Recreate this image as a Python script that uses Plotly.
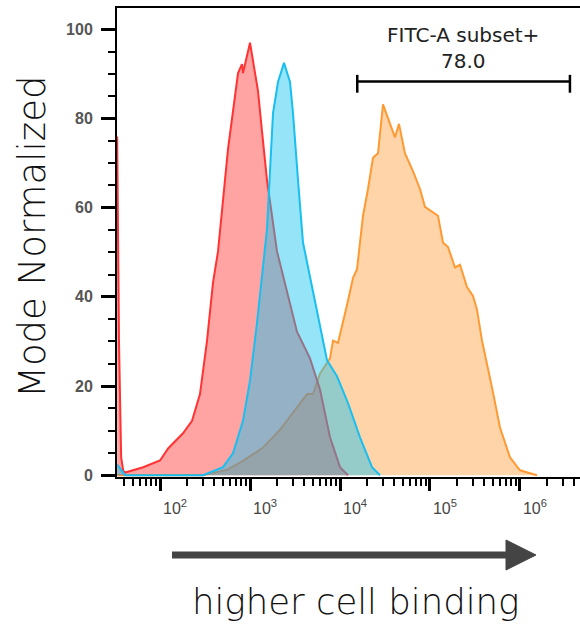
import plotly.graph_objects as go

# ---- data ----
red_x = [33.4, 35, 37, 39, 41, 65, 100, 123, 180, 227, 278, 333, 388, 441, 570, 736, 815,
         836, 1000, 1136, 1227, 1359, 1545, 1995, 2577, 3327, 4642, 5995, 7743, 10000, 12270]
red_y = [76, 30, 4, 1, 0.6, 1.8, 3.3, 6, 9.4, 12.2, 18.2, 30.2, 43.2, 50.2, 73.2, 90.2, 92.2,
         90.2, 97, 90.8, 86.2, 77.2, 66.2, 50.2, 41.2, 32.2, 26.2, 19.2, 8.5, 1.8, 0]

blue_x = [33.4, 41, 167, 300, 501, 647, 836, 1000, 1197, 1359, 1468, 1545, 1668, 1802, 2047,
          2387, 2783, 3005, 3415, 3881, 5012, 7171, 9261, 12270, 16680, 22690, 27830]
blue_y = [2.4, 0, 0, 0, 1.8, 4.9, 12.2, 21.2, 34.2, 45.2, 52.2, 55.2, 68.2, 81.2, 88.2,
          92.5, 88.2, 81.2, 66.2, 52.2, 41.2, 25.8, 22.2, 16.2, 8.5, 1.8, 0]

orange_x = [33.4, 300, 555, 836, 1394, 2154, 3327, 4299, 5012, 5995, 7743, 8356, 9505, 10520,
            11970, 13940, 15450, 18020, 20470, 23270, 26440, 30050, 34150, 40840, 45250, 52750,
            64730, 77430, 87990, 113600, 122700, 139400, 158500, 189700, 215400, 257700, 300500,
            332700, 378200, 488500, 599500, 774300, 1000000, 1545000]
orange_y = [0, 0, 1.2, 3.2, 6.2, 10.2, 15.2, 18.2, 18.2, 22.8, 26.2, 30.2, 29.7, 33.2,
            38.2, 44.2, 46.2, 58.2, 64.2, 71.2, 72.2, 83.2, 80.2, 75.8, 78.8, 72.2,
            68.2, 64.2, 60.2, 58.7, 58.2, 52.2, 51.2, 46.6, 47.2, 42.2, 40.2,
            37.2, 30.2, 19.7, 10.7, 4, 1.1, 0]

gate_x = [15560, 3590000]
gate_y = 88.3
gate_label = "FITC-A subset+"
gate_value = "78.0"

x_major = [1e2, 1e3, 1e4, 1e5, 1e6]
x_major_text = ["10<sup>2</sup>", "10<sup>3</sup>", "10<sup>4</sup>", "10<sup>5</sup>", "10<sup>6</sup>"]
x_minor = [m * 10 ** d for d in range(1, 7) for m in range(2, 10)]
y_major = [0, 20, 40, 60, 80, 100]

fig = go.Figure()

series = [
    (orange_x, orange_y, "#FF9A33", "rgba(255,153,51,0.42)"),
    (red_x, red_y, "#FF3333", "rgba(255,51,51,0.45)"),
    (blue_x, blue_y, "#18BFF0", "rgba(20,195,240,0.45)"),
]
for xs, ys, lc, fc in series:
    fig.add_trace(go.Scatter(x=xs, y=ys, mode="lines", fill="tozeroy",
                             line=dict(color=lc, width=2), fillcolor=fc,
                             hoverinfo="skip", showlegend=False))

# gate bar
g0, g1 = gate_x
fig.add_trace(go.Scatter(
    x=[g0, g0, None, g0, g1, None, g1, g1],
    y=[gate_y - 2.5, gate_y + 1.5, None, gate_y, gate_y, None, gate_y - 2.5, gate_y + 1.5],
    mode="lines", line=dict(color="black", width=2.5), hoverinfo="skip", showlegend=False))

fig.update_xaxes(
    type="log", range=[1.522, 6.667],
    showline=True, linewidth=2, linecolor="black", mirror=True,
    showgrid=False, zeroline=False,
    tickmode="array", tickvals=x_major, ticktext=x_major_text,
    ticks="outside", ticklen=12, tickwidth=3, tickcolor="black",
    tickfont=dict(family="Liberation Sans", size=16, color="#444"),
    ticklabelshift=15, ticklabelstandoff=4,
    minor=dict(tickmode="array", tickvals=x_minor, ticks="outside", ticklen=7,
               tickwidth=1.5, tickcolor="black", showgrid=False),
)
fig.update_yaxes(
    range=[-0.4, 104.8],
    showline=True, linewidth=2, linecolor="black",
    showgrid=False, zeroline=False,
    tickmode="array", tickvals=y_major,
    ticks="outside", ticklen=14, tickwidth=3, tickcolor="black",
    tickfont=dict(family="Liberation Sans", size=16, color="#555", weight="bold"),
    ticklabelstandoff=5,
    minor=dict(dtick=5, ticks="outside", ticklen=7, tickwidth=1.5, tickcolor="black",
               showgrid=False),
)

W, H = 580, 629
L, R, T, B = 117, 0, 8, 152
pw, ph = W - L - R, H - T - B


def px(xp):
    return (xp - L) / pw


def py(yp):
    return (H - B - yp) / ph


annotations = [
    dict(text=gate_label, x=px(463), y=py(35), xref="paper", yref="paper",
         showarrow=False, xanchor="center", yanchor="middle",
         font=dict(family="DejaVu Sans", size=20, color="#222")),
    dict(text=gate_value, x=px(463), y=py(61), xref="paper", yref="paper",
         showarrow=False, xanchor="center", yanchor="middle",
         font=dict(family="DejaVu Sans", size=20, color="#222")),
    dict(text="Mode Normalized", x=px(32), y=py(237), xref="paper", yref="paper",
         showarrow=False, xanchor="center", yanchor="middle", textangle=-90,
         font=dict(family="DejaVu Sans", size=37, color="#111", weight=300)),
    dict(text="higher cell binding", x=px(355), y=py(601), xref="paper", yref="paper",
         showarrow=False, xanchor="center", yanchor="middle",
         font=dict(family="DejaVu Sans", size=35.5, color="#111", weight=300)),
]

shapes = [
    dict(type="line", xref="paper", yref="paper", x0=px(172), x1=px(509), y0=py(555), y1=py(555),
         line=dict(color="#444", width=7)),
    dict(type="path", xref="paper", yref="paper",
         path=f"M {px(506)},{py(540)} L {px(536)},{py(555)} L {px(506)},{py(570)} Z",
         fillcolor="#444", line=dict(color="#444", width=1)),
]

fig.update_layout(
    width=W, height=H,
    margin=dict(l=L, r=R, t=T, b=B, pad=0),
    paper_bgcolor="white", plot_bgcolor="white",
    annotations=annotations, shapes=shapes,
    showlegend=False,
)

fig.write_html("out.html")
